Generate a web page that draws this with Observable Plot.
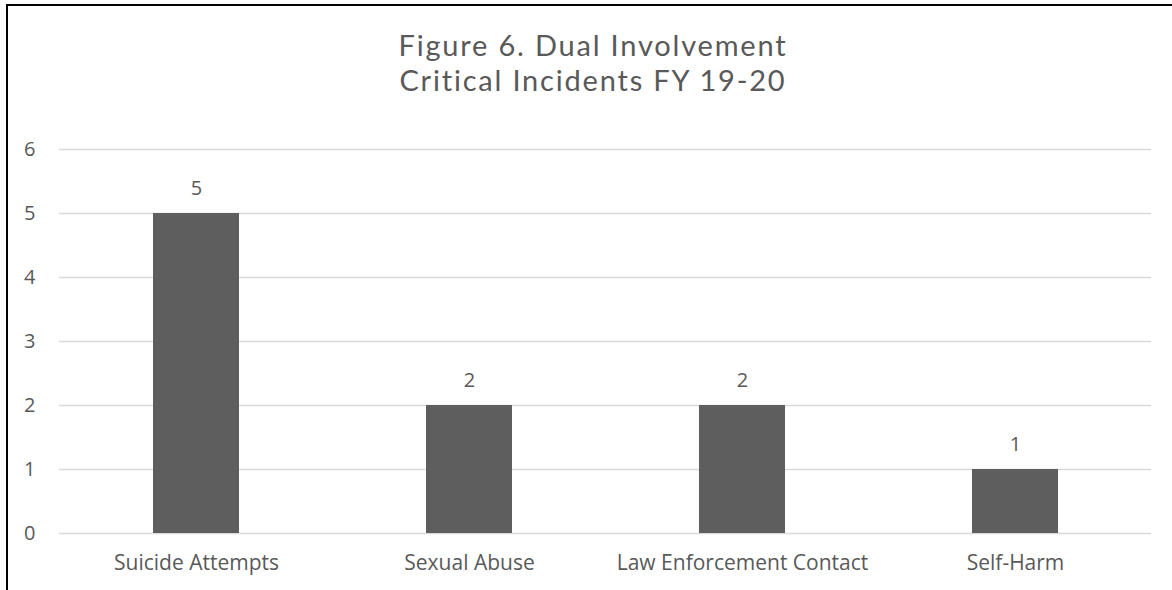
<!DOCTYPE html>
<html>
<head>
<meta charset="utf-8">
<script src="https://cdn.jsdelivr.net/npm/d3@7"></script>
<script src="https://cdn.jsdelivr.net/npm/@observablehq/plot@0.6"></script>
<style>
  html, body { margin: 0; padding: 0; background: #fff; }
  #wrap { position: relative; width: 1172px; height: 590px; overflow: hidden; font-family: "Open Sans", sans-serif; }
  #border { position: absolute; left: 6px; top: 4px; width: 1170px; height: 590px; border-top: 2px solid #000; border-left: 2px solid #000; box-sizing: border-box; pointer-events: none; }
  .title { position: absolute; left: 0; width: 1172px; height: 35px; text-align: center; color: #595959; font-family: Lato, sans-serif; font-size: 29px; letter-spacing: 1.8px; line-height: 35px; padding-left: 14px; box-sizing: border-box; white-space: nowrap; }
  #t1 { top: 27px; }
  #t2 { top: 62px; }
  #chart { position: absolute; left: 0; top: 110px; }
</style>
</head>
<body>
<div id="wrap">
  <div class="title" id="t1">Figure 6. Dual Involvement</div>
  <div class="title" id="t2">Critical Incidents FY 19-20</div>
  <div id="chart"></div>
  <div id="border"></div>
</div>
<script>
const categories = ["Suicide Attempts", "Sexual Abuse", "Law Enforcement Contact", "Self-Harm"];
const counts = [5, 2, 2, 1];
const yTicks = [0, 1, 2, 3, 4, 5, 6];

const data = categories.map((c, i) => ({category: c, count: counts[i]}));

const chart = Plot.plot({
  width: 1172,
  height: 480,
  marginTop: 39,
  marginBottom: 57,
  marginLeft: 59,
  marginRight: 21,
  style: {fontFamily: "'Open Sans', sans-serif", fontSize: "21px", color: "#595959", background: "transparent"},
  x: {domain: categories, paddingInner: 0.685, paddingOuter: 0.3425, label: null},
  y: {domain: [0, 6], label: null},
  marks: [
    Plot.gridY(yTicks, {stroke: "#d9d9d9", strokeOpacity: 1, strokeWidth: 1.5}),
    Plot.barY(data, {x: "category", y: "count", fill: "#5e5e5e"}),
    Plot.text(data, {x: "category", y: "count", text: d => String(d.count), dy: -25, fill: "#595959", fontSize: 20}),
    Plot.axisY(yTicks, {tickSize: 0, tickPadding: 24, tickFormat: d => String(d), fill: "#595959", fontSize: 20, label: null}),
    Plot.axisX({tickSize: 0, tickPadding: 22, fill: "#595959", fontSize: 21, label: null})
  ]
});
document.getElementById("chart").appendChild(chart);
</script>
</body>
</html>
